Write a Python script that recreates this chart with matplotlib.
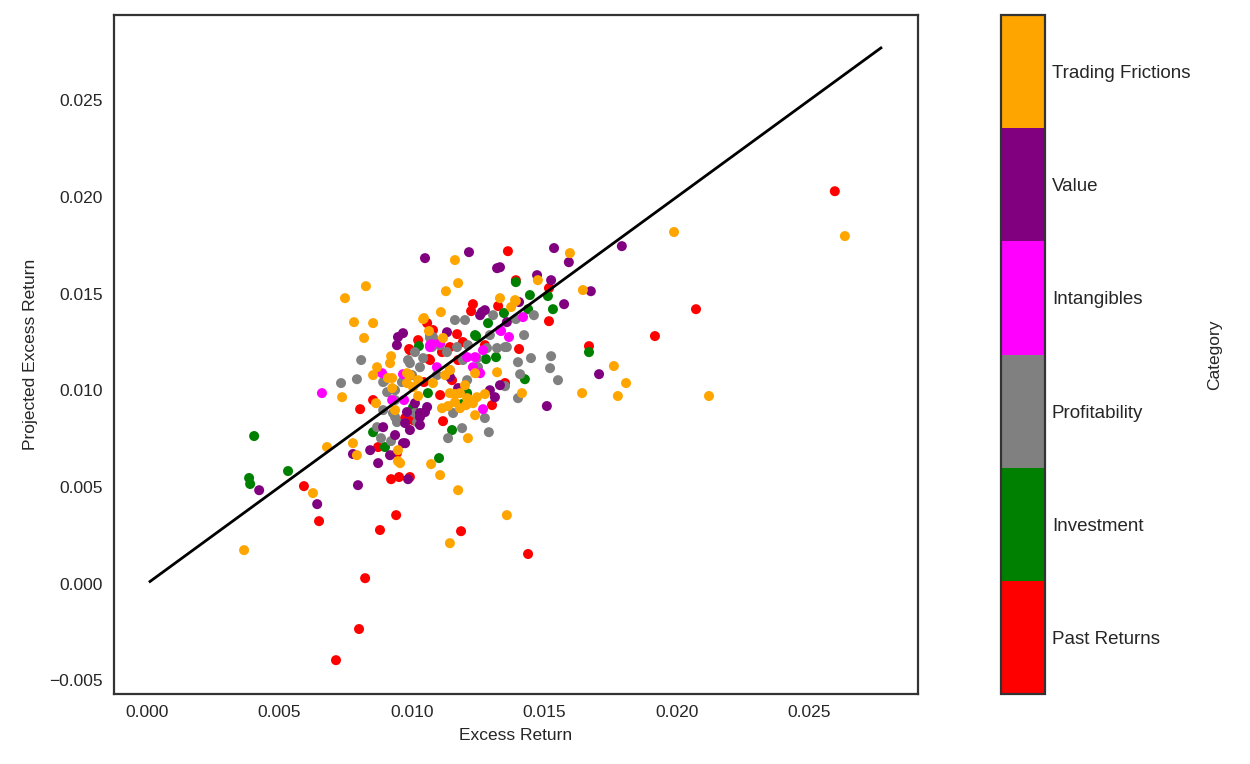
"""Scatter of projected vs realised excess returns, coloured by anomaly category."""

import matplotlib

matplotlib.use("Agg")
import matplotlib.pyplot as plt
import numpy as np
from matplotlib.colors import BoundaryNorm, ListedColormap

plt.rcParams["font.family"] = ["Liberation Sans", "DejaVu Sans"]
plt.rcParams["text.color"] = "#262626"
plt.rcParams["axes.labelcolor"] = "#262626"
plt.rcParams["xtick.color"] = "#262626"
plt.rcParams["ytick.color"] = "#262626"

categories = ["Past Returns", "Investment", "Profitability", "Intangibles", "Value", "Trading Frictions"]
category_colors = ["red", "green", "grey", "magenta", "purple", "orange"]

past_x = [0.02596, 0.02072, 0.01917, 0.01668, 0.01438, 0.01185, 0.01302, 0.00879, 0.0094, 0.00823,
          0.0080, 0.00713, 0.00592, 0.00649, 0.00804, 0.00921, 0.00951, 0.00992, 0.01362, 0.01392,
          0.01517, 0.01404, 0.01351, 0.01117, 0.01517, 0.0123, 0.01325, 0.0117, 0.01113, 0.01064,
          0.00992, 0.01023, 0.01057, 0.00974, 0.01004, 0.01223, 0.00853, 0.00989, 0.00872, 0.00943,
          0.01045, 0.01068, 0.01192, 0.01275, 0.01106, 0.01151, 0.01174, 0.01143, 0.01079]
past_y = [0.02029, 0.01419, 0.0128, 0.01228, 0.00153, 0.00271, 0.00923, 0.00277, 0.00354, 0.00028,
          -0.00235, -0.00396, 0.00504, 0.00323, 0.00902, 0.0054, 0.00551, 0.00551, 0.01719, 0.01569,
          0.01357, 0.01213, 0.01037, 0.0084, 0.01528, 0.01445, 0.01435, 0.0129, 0.01197, 0.01161,
          0.01207, 0.01259, 0.01347, 0.00856, 0.00845, 0.01409, 0.00949, 0.01213, 0.00706, 0.00675,
          0.01042, 0.01156, 0.01249, 0.01233, 0.00975, 0.01052, 0.01156, 0.01223, 0.01311]

invest_x = [0.00404, 0.00385, 0.00389, 0.00532, 0.01102, 0.01668, 0.01445, 0.01513, 0.01532, 0.01426,
            0.01392, 0.01347, 0.01438, 0.01242, 0.01279, 0.01317, 0.01151, 0.01026, 0.01004, 0.0106,
            0.01189, 0.01208, 0.01287, 0.00853, 0.00898, 0.01238]
invest_y = [0.00763, 0.00546, 0.00515, 0.00582, 0.00649, 0.01197, 0.01492, 0.01487, 0.01419, 0.01057,
            0.01559, 0.01399, 0.01419, 0.0128, 0.01161, 0.01171, 0.00794, 0.01228, 0.00913, 0.00985,
            0.00928, 0.00985, 0.01347, 0.00783, 0.00706, 0.01285]

profit_x = [0.00808, 0.00792, 0.00732, 0.00891, 0.00906, 0.00962, 0.00936, 0.00943, 0.00868, 0.00883,
            0.00921, 0.00891, 0.00985, 0.0103, 0.01068, 0.01011, 0.0146, 0.01392, 0.01423, 0.01351,
            0.01449, 0.014, 0.01525, 0.01521, 0.01408, 0.01551, 0.01351, 0.014, 0.01321, 0.01306,
            0.012, 0.01162, 0.01245, 0.01249, 0.01275, 0.0129, 0.01189, 0.01136, 0.01155, 0.01079,
            0.01106, 0.01132, 0.01211, 0.00936, 0.0100, 0.01094, 0.01011, 0.01075, 0.01094, 0.0117,
            0.01283, 0.01358, 0.01208, 0.01143, 0.01192, 0.01294, 0.00992, 0.01042, 0.01068, 0.00928,
            0.01019, 0.00898, 0.00936]
profit_y = [0.01156, 0.01057, 0.01037, 0.01042, 0.0099, 0.01042, 0.00861, 0.00835, 0.00809, 0.00752,
            0.00737, 0.00897, 0.01156, 0.01119, 0.0127, 0.00882, 0.01388, 0.01368, 0.01285, 0.01223,
            0.01166, 0.01145, 0.01176, 0.01114, 0.01083, 0.01052, 0.01021, 0.00959, 0.01218, 0.01388,
            0.01363, 0.01363, 0.01166, 0.01119, 0.00856, 0.00783, 0.00804, 0.00752, 0.00882, 0.01275,
            0.01233, 0.01197, 0.01233, 0.00949, 0.01078, 0.01078, 0.01197, 0.01223, 0.01238, 0.01223,
            0.01218, 0.01223, 0.01052, 0.01104, 0.01156, 0.01285, 0.0114, 0.01166, 0.01285, 0.00882,
            0.00835, 0.01052, 0.0100]

intang_x = [0.0066, 0.00887, 0.00925, 0.0097, 0.00966, 0.01068, 0.01419, 0.01366, 0.01336, 0.01268,
            0.01238, 0.01268, 0.0123, 0.01257, 0.01075, 0.01106, 0.01208, 0.01332, 0.01094, 0.01068]
intang_y = [0.00985, 0.01088, 0.00949, 0.00949, 0.01083, 0.01233, 0.01378, 0.01275, 0.01306, 0.01207,
            0.01171, 0.00902, 0.01119, 0.01088, 0.01238, 0.01244, 0.01171, 0.01311, 0.01119, 0.01223]

value_x = [0.01049, 0.00947, 0.00943, 0.00842, 0.00777, 0.00872, 0.00917, 0.00891, 0.00936, 0.00974,
           0.00992, 0.0103, 0.01057, 0.00981, 0.00423, 0.00642, 0.00796, 0.00985, 0.01215, 0.01536,
           0.01592, 0.01321, 0.01472, 0.01525, 0.01404, 0.01574, 0.01675, 0.01509, 0.01706, 0.01257,
           0.01275, 0.01132, 0.0103, 0.01294, 0.01313, 0.01332, 0.00974, 0.00966, 0.01792, 0.01332,
           0.01358, 0.01011, 0.0103, 0.01143, 0.01174, 0.01264, 0.00966, 0.01049]
value_y = [0.01683, 0.01275, 0.01233, 0.0069, 0.0067, 0.00623, 0.00664, 0.00809, 0.00768, 0.00726,
           0.00794, 0.0082, 0.00913, 0.00887, 0.00483, 0.00411, 0.00509, 0.0054, 0.01714, 0.01735,
           0.01662, 0.01631, 0.01595, 0.01569, 0.01456, 0.01445, 0.01512, 0.00918, 0.01083, 0.01388,
           0.01414, 0.0130, 0.00882, 0.0100, 0.00964, 0.01026, 0.0083, 0.00726, 0.01745, 0.01636,
           0.01352, 0.00933, 0.00861, 0.01068, 0.01011, 0.01404, 0.01295, 0.00887]

trading_x = [0.00826, 0.00747, 0.00781, 0.00853, 0.00819, 0.00921, 0.00868, 0.00853, 0.00736, 0.00679,
             0.00777, 0.00792, 0.00925, 0.00925, 0.00864, 0.00936, 0.00947, 0.00947, 0.01023, 0.01042,
             0.00366, 0.00626, 0.01072, 0.01106, 0.01174, 0.01143, 0.01358, 0.01162, 0.01596, 0.01174,
             0.01128, 0.01475, 0.01645, 0.01109, 0.01374, 0.01392, 0.01045, 0.01064, 0.01117, 0.01321,
             0.01415, 0.01642, 0.01079, 0.0123, 0.01211, 0.01136, 0.01113, 0.00955, 0.01989, 0.01762,
             0.01808, 0.01777, 0.02121, 0.02634, 0.01162, 0.0120, 0.01275, 0.01143, 0.00992, 0.01204,
             0.01238, 0.01181, 0.00981, 0.01023, 0.01004, 0.01143, 0.01181, 0.01208, 0.01226, 0.01245,
             0.01162, 0.01238, 0.01125, 0.01332, 0.01389, 0.00917, 0.00909, 0.00981]
trading_y = [0.01538, 0.01476, 0.01352, 0.01347, 0.0127, 0.01176, 0.01119, 0.01078, 0.00964, 0.00706,
             0.00726, 0.00664, 0.01063, 0.01011, 0.00933, 0.00897, 0.0069, 0.00633, 0.0097, 0.01368,
             0.00173, 0.00468, 0.00618, 0.00561, 0.00483, 0.00209, 0.00354, 0.01673, 0.01709, 0.01554,
             0.01512, 0.01569, 0.01518, 0.01404, 0.0143, 0.01461, 0.01373, 0.01306, 0.0127, 0.01093,
             0.00985, 0.00985, 0.01037, 0.00933, 0.00752, 0.00918, 0.00907, 0.00623, 0.01818, 0.01125,
             0.01037, 0.0097, 0.0097, 0.01797, 0.0098, 0.01026, 0.0098, 0.01104, 0.01078, 0.00923,
             0.00871, 0.00907, 0.01088, 0.01052, 0.01016, 0.00985, 0.00985, 0.00959, 0.00938, 0.00964,
             0.00938, 0.01088, 0.01078, 0.01476, 0.01466, 0.0114, 0.01063, 0.01037]

diag_range = [0.00011, 0.0277]

series = [
    (past_x, past_y),
    (invest_x, invest_y),
    (profit_x, profit_y),
    (intang_x, intang_y),
    (value_x, value_y),
    (trading_x, trading_y),
]
xs = np.concatenate([np.asarray(sx) for sx, _ in series])
ys = np.concatenate([np.asarray(sy) for _, sy in series])
codes = np.concatenate([np.full(len(sx), idx) for idx, (sx, _) in enumerate(series)])

cmap = ListedColormap(category_colors)
norm = BoundaryNorm(np.arange(-0.5, len(categories) + 0.5), cmap.N)

fig = plt.figure(figsize=(12.5, 7.64), dpi=100)
ax = fig.add_axes([0.0912, 0.0916, 0.6432, 0.8887])
cax = fig.add_axes([0.8008, 0.0916, 0.0352, 0.8887])

points = ax.scatter(xs, ys, c=codes, cmap=cmap, norm=norm, s=52, linewidths=0, zorder=2)
ax.plot(diag_range, diag_range, color="black", lw=2, zorder=3)

ax.set_xlim(-0.00125, 0.0291)
ax.set_ylim(-0.00571, 0.0294)
ax.set_xticks([0.0, 0.005, 0.01, 0.015, 0.02, 0.025])
ax.set_yticks([-0.005, 0.0, 0.005, 0.01, 0.015, 0.02, 0.025])
ax.set_xticklabels([f"{v:.3f}" for v in ax.get_xticks()])
ax.set_yticklabels([f"{v:.3f}".replace("-", "\u2212") for v in ax.get_yticks()])
ax.tick_params(length=0, labelsize=12.5, pad=8)
ax.set_xlabel("Excess Return", fontsize=12.5, labelpad=6)
ax.set_ylabel("Projected Excess Return", fontsize=12.5, labelpad=8)
for spine in ax.spines.values():
    spine.set_color("#333333")
    spine.set_linewidth(1.6)

cbar = fig.colorbar(points, cax=cax, ticks=np.arange(len(categories)))
cbar.set_ticklabels(categories)
cbar.ax.minorticks_off()
cbar.ax.tick_params(which="both", length=0, labelsize=13.5, pad=5)
cbar.outline.set_edgecolor("#333333")
cbar.outline.set_linewidth(1.6)
cbar.set_label("Category", fontsize=12.5, labelpad=12)

fig.savefig("out.png", dpi=100, facecolor="white")
